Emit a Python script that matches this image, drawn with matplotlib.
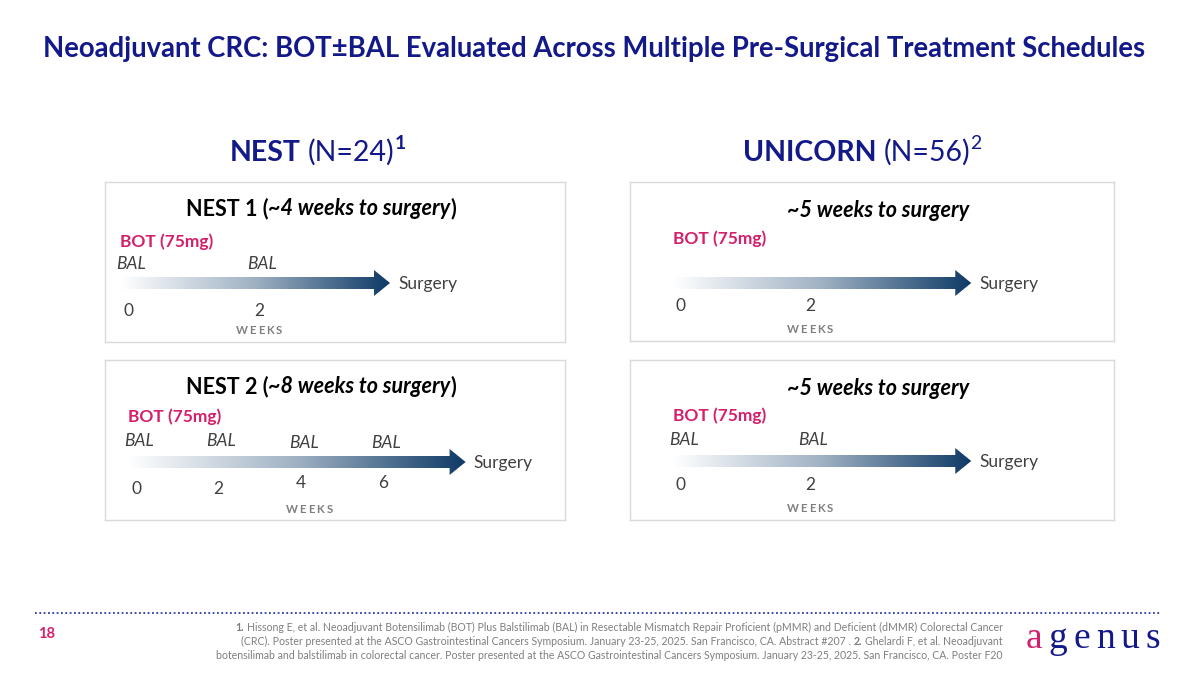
import numpy as np
import matplotlib
matplotlib.use("Agg")
import matplotlib.pyplot as plt
from matplotlib.colors import LinearSegmentedColormap
from matplotlib.patches import Polygon

plt.rcParams["font.family"] = ["Lato", "DejaVu Sans"]

W, H = 1200, 675
NAVY = "#14198a"
PINK = "#d41f6b"
DARK = "#0e3a66"
GRAY = "#7f7f7f"
TEXT = "#404040"

# ---- data --------------------------------------------------------------
nest1_ticks = [0, 2]
nest1_bal = [0, 2]
nest1_surgery = 4

unicorn_a_ticks = [0, 2]
unicorn_a_bal = []
unicorn_a_surgery = 4.5

nest2_ticks = [0, 2, 4, 6]
nest2_bal = [0, 2, 4, 6]
nest2_surgery = 8

unicorn_b_ticks = [0, 2]
unicorn_b_bal = [0, 2]
unicorn_b_surgery = 4.5

footnotes = [
    [("1.", "bold"), (" Hissong E, et al. Neoadjuvant Botensilimab (BOT) Plus Balstilimab (BAL) in Resectable "
                      "Mismatch Repair Proficient (pMMR) and Deficient (dMMR) Colorectal Cancer", "normal")],
    [("(CRC). Poster presented at the ASCO Gastrointestinal Cancers Symposium. January 23-25, 2025. "
      "San Francisco, CA. Abstract #207 . ", "normal"), ("2.", "bold"),
     (" Ghelardi F, et al. Neoadjuvant", "normal")],
    [("botensilimab and balstilimab in colorectal cancer. Poster presented at the ASCO Gastrointestinal "
      "Cancers Symposium. January 23-25, 2025. San Francisco, CA. Poster F20", "normal")],
]

fig = plt.figure(figsize=(12, 6.75), dpi=100)
fig.patch.set_facecolor("white")
renderer = fig.canvas.get_renderer()


def _width(s, kw):
    """pixel width of a string, keeping leading / trailing spaces"""
    core = s.strip(" ")
    n_sp = len(s) - len(core)
    w = 0.0
    if core:
        t = fig.text(0, 0, core, **kw)
        w = t.get_window_extent(renderer).width
        t.remove()
    if n_sp:
        a = fig.text(0, 0, "x x", **kw)
        b = fig.text(0, 0, "xx", **kw)
        sp = a.get_window_extent(renderer).width - b.get_window_extent(renderer).width
        a.remove()
        b.remove()
        w += n_sp * sp
    return w


def rich(x, y, pieces, ha="center", tracking=0.0, **common):
    """draw text pieces with different styles on one baseline (pixel coords)"""
    items = []
    for s, style in pieces:
        kw = dict(common)
        kw.update(style)
        dy = kw.pop("dy", 0)
        items.append((s, kw, dy, _width(s, kw)))
    total = sum(it[3] for it in items) + tracking * (len(items) - 1)
    cur = {"center": x - total / 2, "right": x - total, "left": x}[ha]
    for s, kw, dy, w in items:
        lead = _width(s[:len(s) - len(s.lstrip(" "))], kw) if s.startswith(" ") else 0
        fig.text((cur + lead) / W, 1 - (y - dy) / H, s.strip(" "), va="baseline", **kw)
        cur += w + tracking


# ---- header ------------------------------------------------------------
rich(594, 57, [("Neoadjuvant CRC: BOT\u00b1BAL Evaluated Across Multiple Pre-Surgical Treatment Schedules",
                {})], color=NAVY, fontsize=19.8, fontweight="bold")

rich(318, 161, [("NEST", {"fontweight": "bold"}), (" (N=24)", {}),
                ("1", {"fontsize": 14, "fontweight": "bold", "dy": 12})],
     color=NAVY, fontsize=20.5)
rich(862, 161, [("UNICORN", {"fontweight": "bold"}), (" (N=56)", {}),
                ("2", {"fontsize": 14, "dy": 12})],
     color=NAVY, fontsize=20.5)

# ---- panels ------------------------------------------------------------
panels = [
    dict(box=(105, 182, 565, 342), x0=128, ppw=65.5, ticks=nest1_ticks, bal=nest1_bal,
         surgery=nest1_surgery, title=[("NEST 1 (", {}), ("~4 weeks to surgery", {"style": "italic"}), (")", {})],
         tcx=321, y=dict(title=33, bot=65, bal=87, arrow=101, tick=134, weeks=152), tick_dy=[0, 0]),
    dict(box=(630, 182, 1114, 341), x0=681, ppw=64.5, ticks=unicorn_a_ticks, bal=unicorn_a_bal,
         surgery=unicorn_a_surgery, title=[("~5 weeks to surgery", {"style": "italic"})],
         tcx=878, y=dict(title=35, bot=62, bal=86, arrow=101, tick=129, weeks=151), tick_dy=[0, 0]),
    dict(box=(105, 360, 565, 520), x0=136, ppw=41.2, ticks=nest2_ticks, bal=nest2_bal,
         surgery=nest2_surgery, title=[("NEST 2 (", {}), ("~8 weeks to surgery", {"style": "italic"}), (")", {})],
         tcx=321, y=dict(title=33, bot=62, bal=86, arrow=102, tick=134, weeks=153), tick_dy=[0, 0, 6, 6]),
    dict(box=(630, 360, 1114, 520), x0=681, ppw=64.5, ticks=unicorn_b_ticks, bal=unicorn_b_bal,
         surgery=unicorn_b_surgery, title=[("~5 weeks to surgery", {"style": "italic"})],
         tcx=878, y=dict(title=35, bot=61, bal=85, arrow=101, tick=130, weeks=152), tick_dy=[0, 0]),
]

cmap = LinearSegmentedColormap.from_list("arrow", ["#ffffff", "#9fb1c3", DARK])

for p in panels:
    l, t, r, b = p["box"]
    ax = fig.add_axes([l / W, 1 - b / H, (r - l) / W, (b - t) / H])
    ppw, x0 = p["ppw"], p["x0"]
    xlim = ((l - x0) / ppw, (r - x0) / ppw)
    ylim = (b - t, 0)
    ax.set_xticks([])
    ax.set_yticks([])
    for sp in ax.spines.values():
        sp.set_color("#d9d9d9")
        sp.set_linewidth(1.0)
    yy = p["y"]

    # gradient arrow
    xs = -8 / ppw
    xe = p["surgery"]
    head = 16 / ppw
    ya = yy["arrow"]
    bh, hh = 6, 13
    verts = [(xs, ya - bh), (xe - head, ya - bh), (xe - head, ya - hh), (xe, ya),
             (xe - head, ya + hh), (xe - head, ya + bh), (xs, ya + bh)]
    poly = Polygon(verts, closed=True, facecolor="none", edgecolor="none")
    ax.add_patch(poly)
    im = ax.imshow(np.linspace(0, 1, 256)[None, :], extent=[xs, xe, ya + hh, ya - hh],
                   aspect="auto", cmap=cmap, interpolation="bilinear")
    im.set_clip_path(poly)
    ax.set_xlim(*xlim)
    ax.set_ylim(*ylim)

    ax.text(xe + 8 / ppw, ya + 1, "Surgery", fontsize=12.5, color=TEXT, ha="left", va="center")
    ax.text(xs, yy["bot"], "BOT (75mg)", fontsize=12.5, color=PINK, fontweight="bold",
            ha="left", va="baseline")
    for i, wk in enumerate(p["bal"]):
        ax.text(wk + 3 / ppw, yy["bal"] + (2 if i >= 2 else 0), "BAL", fontsize=12.5,
                color=TEXT, style="italic", ha="center", va="baseline")
    for wk, d in zip(p["ticks"], p["tick_dy"]):
        ax.text(wk, yy["tick"] - d, str(wk), fontsize=12.5, color=TEXT, ha="center", va="baseline")

    # panel title and WEEKS label (pixel coords)
    rich(p["tcx"], t + yy["title"], p["title"], color="black", fontsize=15.5, fontweight="bold")
    wx = x0 + (2 if len(p["ticks"]) == 2 else 4.2) * ppw
    rich(wx, t + yy["weeks"], [(c, {}) for c in "WEEKS"], tracking=2.0,
         color=GRAY, fontsize=8.2, fontweight="bold")

# ---- footer ------------------------------------------------------------
fig.add_artist(plt.Line2D([35 / W, 1160 / W], [1 - 613 / H, 1 - 613 / H], color="#2f3aa6",
                          linestyle=(0, (1, 1.4)), linewidth=1.3))
fig.text(38 / W, 1 - 638 / H, "18", color=PINK, fontsize=10.5, fontweight="bold", va="baseline")

for i, line in enumerate(footnotes):
    rich(1003, 631 + 14 * i, [(s, {"fontweight": w}) for s, w in line], ha="right",
         color=GRAY, fontsize=7.6)

rich(1093, 648, [("a", {"color": PINK})] + [(c, {"color": NAVY}) for c in "genus"],
     tracking=6.0, fontsize=27, family="Liberation Serif")

fig.savefig("out.png", dpi=100, facecolor="white")
